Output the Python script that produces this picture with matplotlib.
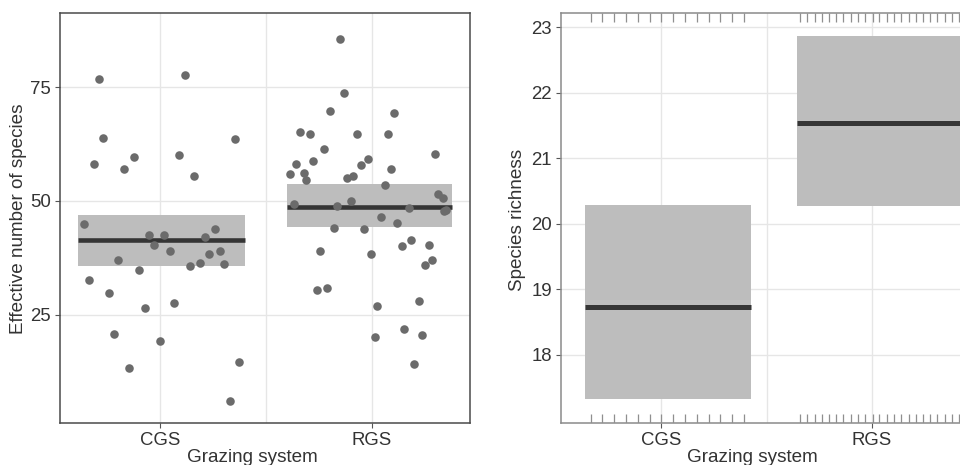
import matplotlib.pyplot as plt
import matplotlib.transforms as mtransforms

plt.rcParams['font.family'] = ['Liberation Sans', 'DejaVu Sans']

categories = ['CGS', 'RGS']

# left panel: jittered points (effective number of species)
cgs_x = [0.712, 1.117, 0.732, 0.688, 0.830, 0.877, 1.088, 1.162, 1.356, 0.641, 0.947,
         1.020, 0.973, 1.047, 0.803, 0.902, 0.663, 0.761, 0.928, 1.068, 0.784, 1.000,
         0.854, 1.375, 1.331, 1.213, 1.258, 1.233, 1.282, 1.189, 1.142, 1.304]
cgs_y = [76.8, 77.6, 63.8, 58.1, 57.1, 59.7, 60.0, 55.4, 63.5, 44.9, 42.4,
         42.4, 40.2, 38.9, 37.0, 34.7, 32.7, 29.8, 26.5, 27.6, 20.7, 19.1,
         13.3, 14.5, 6.1, 42.0, 43.9, 38.3, 38.9, 36.3, 35.6, 36.1]
rgs_x = [1.849, 1.871, 1.804, 2.105, 1.660, 1.709, 1.932, 2.076, 1.773, 1.642, 1.721,
         1.615, 1.679, 1.691, 1.951, 1.983, 1.883, 1.910, 2.093, 2.063, 2.299, 2.313,
         2.335, 2.339, 2.353, 1.632, 1.835, 1.902, 2.175, 2.043, 2.121, 1.822, 1.965,
         2.187, 2.143, 2.269, 1.754, 1.995, 2.285, 2.253, 1.743, 1.790, 2.026, 2.223,
         2.154, 2.238, 2.014, 2.201]
rgs_y = [85.6, 73.7, 69.7, 69.3, 65.1, 64.8, 64.7, 64.6, 61.4, 58.1, 58.8,
         56.0, 56.2, 54.5, 57.8, 59.2, 55.0, 55.5, 57.0, 53.5, 60.3, 51.5,
         50.6, 47.8, 48.0, 49.3, 48.8, 49.9, 48.4, 46.5, 45.2, 44.0, 43.9,
         41.5, 40.1, 40.2, 38.9, 38.3, 36.9, 36.0, 30.5, 30.9, 26.8, 27.9,
         21.8, 20.6, 20.0, 14.2]

# left panel: mean and interval
eff_mean = [41.3, 48.75]
eff_low = [35.6, 44.35]
eff_high = [46.9, 53.6]
eff_xmin = [0.614, 1.598]
eff_xmax = [1.402, 2.381]

# right panel: species richness mean and interval
rich_mean = [18.73, 21.54]
rich_low = [17.32, 20.28]
rich_high = [20.29, 22.87]
rich_xmin = [0.639, 1.644]
rich_xmax = [1.426, 2.43]

# right panel rug positions
rug_cgs = [0.666, 0.721, 0.778, 0.834, 0.889, 0.946, 1.001, 1.057, 1.114, 1.168,
           1.225, 1.281, 1.338, 1.393]
rug_rgs = [1.660, 1.693, 1.728, 1.763, 1.796, 1.831, 1.865, 1.900, 1.934, 1.968,
           2.003, 2.036, 2.071, 2.106, 2.139, 2.174, 2.209, 2.242, 2.277, 2.311,
           2.345, 2.380, 2.413, 2.448]

W, H = 960, 465
fig = plt.figure(figsize=(9.6, 4.65), dpi=100)
ax1 = fig.add_axes([60 / W, 42 / H, 410 / W, 410 / H])
ax2 = fig.add_axes([561 / W, 42 / H, 411 / W, 410 / H])

txt_col = '#333333'
grid_col = '#e6e6e6'
box_col = '#bdbdbd'
line_col = '#353535'


def style(ax, spine_col):
    ax.set_facecolor('white')
    ax.grid(False)
    for x in [1, 1.5, 2]:
        ax.axvline(x, color=grid_col, lw=1, zorder=0)
    ax.tick_params(axis='both', length=3.5, width=0.8, color='#555555',
                   labelsize=13.4, labelcolor=txt_col, pad=3)
    ax.set_xticks([1, 2])
    ax.set_xticklabels(categories)
    for s in ax.spines.values():
        s.set_color(spine_col)
        s.set_linewidth(1.1)


# left panel
style(ax1, '#4a4a4a')
for y in [25, 50, 75]:
    ax1.axhline(y, color=grid_col, lw=1, zorder=0)
for i in range(2):
    ax1.fill_between([eff_xmin[i], eff_xmax[i]], eff_low[i], eff_high[i],
                     color=box_col, lw=0, zorder=1)
    ax1.plot([eff_xmin[i], eff_xmax[i]], [eff_mean[i]] * 2, color=line_col,
             lw=3.3, solid_capstyle='butt', zorder=2)
ax1.scatter(cgs_x, cgs_y, s=38, color='#6b6b6b', lw=0, zorder=3)
ax1.scatter(rgs_x, rgs_y, s=38, color='#6b6b6b', lw=0, zorder=3)
ax1.set_xlim(0.528, 2.464)
ax1.set_ylim(1.16, 91.3)
ax1.set_yticks([25, 50, 75])

# right panel
style(ax2, '#8a8a8a')
ax2.spines['right'].set_visible(False)
for y in [18, 19, 20, 21, 22, 23]:
    ax2.axhline(y, color=grid_col, lw=1, zorder=0)
for i in range(2):
    ax2.fill_between([rich_xmin[i], rich_xmax[i]], rich_low[i], rich_high[i],
                     color=box_col, lw=0, zorder=1)
    ax2.plot([rich_xmin[i], rich_xmax[i]], [rich_mean[i]] * 2, color=line_col,
             lw=3.6, solid_capstyle='butt', zorder=2)
trans = mtransforms.blended_transform_factory(ax2.transData, ax2.transAxes)
rug = rug_cgs + rug_rgs
ax2.vlines(rug, 0, 0.022, transform=trans, color='#8f8f8f', lw=0.9, zorder=3)
ax2.vlines(rug, 0.978, 1, transform=trans, color='#8f8f8f', lw=0.9, zorder=3)
ax2.set_xlim(0.525, 2.475)
ax2.set_ylim(16.96, 23.22)
ax2.set_yticks([18, 19, 20, 21, 22, 23])

# axis titles
fig.text(252 / W, 1 - 449 / H, 'Grazing system', ha='center', va='top',
         fontsize=13.6, color=txt_col)
fig.text(752 / W, 1 - 449 / H, 'Grazing system', ha='center', va='top',
         fontsize=13.6, color=txt_col)
fig.text(18.5 / W, 1 - 219 / H, 'Effective number of species', rotation=90,
         ha='center', va='center', fontsize=13.6, color=txt_col)
fig.text(518 / W, 1 - 220 / H, 'Species richness', rotation=90,
         ha='center', va='center', fontsize=13.6, color=txt_col)

fig.savefig('out.png', dpi=100)
